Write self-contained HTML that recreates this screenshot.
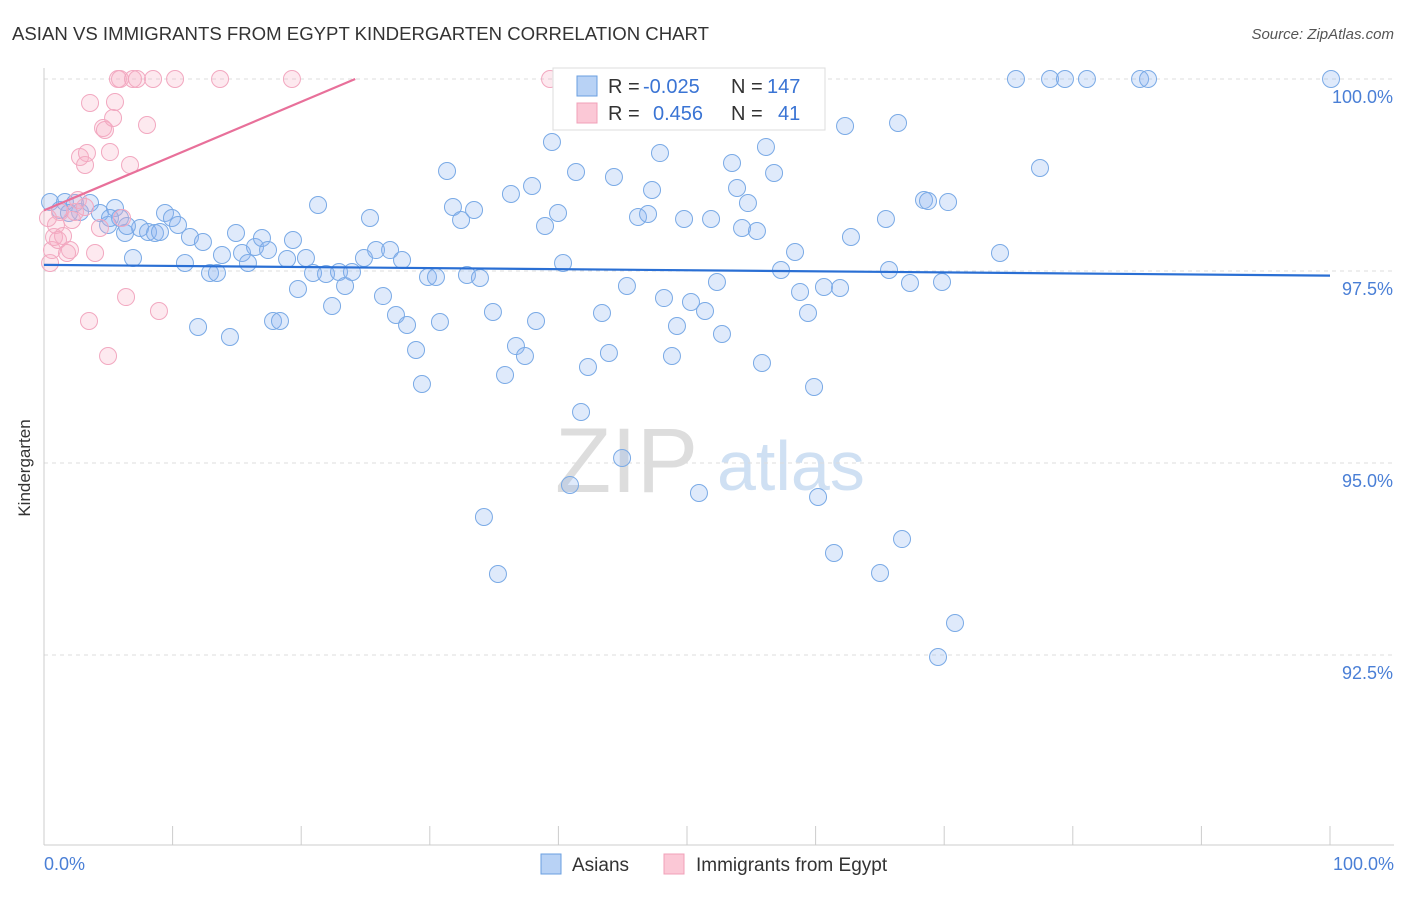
<!DOCTYPE html>
<html><head><meta charset="utf-8"><style>
body{margin:0;background:#fff;font-family:"Liberation Sans",sans-serif;}
svg text{font-family:"Liberation Sans",sans-serif;}
</style></head><body>
<svg id="chart" width="1406" height="892" xmlns="http://www.w3.org/2000/svg">
<text x="12" y="40" font-size="18.6" fill="#333">ASIAN VS IMMIGRANTS FROM EGYPT KINDERGARTEN CORRELATION CHART</text>
<text x="1394" y="39" font-size="15" fill="#555" font-style="italic" text-anchor="end">Source: ZipAtlas.com</text>
<g>
<text x="555" y="492" font-size="92" font-family="Liberation Serif,serif" fill="#ddd">ZIP</text>
<text x="717" y="490" font-size="70" fill="#cfe0f3">atlas</text>
</g>
<g id="grid"></g><g id="axes"></g><g id="pts"></g><g id="trends"></g>
<text x="18" y="456" font-size="17" fill="#333" transform="rotate(-90 30 456)" text-anchor="middle">Kindergarten</text>
<text x="44" y="870" font-size="18" fill="#4a7fd6">0.0%</text>
<text x="1394" y="870" font-size="18" fill="#4a7fd6" text-anchor="end">100.0%</text>
<g>
<rect x="553" y="68" width="272" height="62" fill="#fff" stroke="#ddd"/>
<rect x="577" y="76" width="20" height="20" fill="#b8d2f5" stroke="#6a9fe0"/>
<rect x="577" y="103" width="20" height="20" fill="#fbc8d6" stroke="#f0a0b8"/>
<text x="608" y="93" font-size="20" fill="#333">R =</text>
<text x="643" y="93" font-size="20" fill="#3a74d4">-0.025</text>
<text x="731" y="93" font-size="20" fill="#333">N =</text>
<text x="767" y="93" font-size="20" fill="#3a74d4">147</text>
<text x="608" y="120" font-size="20" fill="#333">R =</text>
<text x="653" y="120" font-size="20" fill="#3a74d4">0.456</text>
<text x="731" y="120" font-size="20" fill="#333">N =</text>
<text x="778" y="120" font-size="20" fill="#3a74d4">41</text>
</g>
<g>
<rect x="541" y="854" width="20" height="20" fill="#b8d2f5" stroke="#6a9fe0"/>
<text x="572" y="871" font-size="19" fill="#333">Asians</text>
<rect x="664" y="854" width="20" height="20" fill="#fbc8d6" stroke="#f0a0b8"/>
<text x="696" y="871" font-size="19" fill="#333">Immigrants from Egypt</text>
</g>
</svg>
<script>
const yTicks=[100,97.5,95,92.5];
const yTickLabels=["100.0%","97.5%","95.0%","92.5%"];
const xTicks=[0,10,20,30,40,50,60,70,80,90,100];
const asiansPx=[[50,202],[60,210],[65,202],[75,203],[80,212],[90,203],[100,213],[108,225],[115,208],[120,218],[125,233],[133,258],[140,228],[148,232],[155,233],[160,232],[165,213],[172,218],[178,225],[185,263],[190,237],[198,327],[203,242],[210,273],[217,273],[222,255],[230,337],[236,233],[242,253],[248,263],[255,247],[262,238],[268,250],[273,321],[280,321],[287,259],[293,240],[298,289],[306,258],[313,273],[318,205],[326,274],[332,306],[339,272],[345,286],[352,272],[364,258],[370,218],[376,250],[383,296],[390,250],[396,315],[402,260],[407,325],[416,350],[422,384],[428,277],[436,277],[440,322],[447,171],[453,207],[461,220],[467,275],[474,210],[480,278],[484,517],[493,312],[498,574],[505,375],[511,194],[516,346],[525,356],[532,186],[536,321],[545,226],[552,142],[558,213],[563,263],[570,485],[576,172],[581,412],[588,367],[602,313],[609,353],[614,177],[622,458],[627,286],[638,217],[648,214],[652,190],[660,153],[664,298],[672,356],[677,326],[684,219],[691,302],[699,493],[705,311],[711,219],[717,282],[722,334],[732,163],[737,188],[742,228],[748,203],[757,231],[762,363],[766,147],[774,173],[781,270],[795,252],[800,292],[808,313],[814,387],[818,497],[824,287],[834,553],[840,288],[845,126],[851,237],[880,573],[886,219],[889,270],[898,123],[902,539],[910,283],[924,200],[928,201],[938,657],[942,282],[948,202],[955,623],[1000,253],[1016,79],[1040,168],[1050,79],[1065,79],[1087,79],[1140,79],[1148,79],[1331,79],[110,218],[127,226],[69,213],[635,116]];
const egyptPx=[[50,263],[52,250],[54,237],[56,225],[58,240],[60,212],[63,236],[67,253],[70,250],[72,220],[75,212],[78,200],[80,157],[85,165],[87,153],[89,321],[90,103],[95,253],[100,228],[103,128],[105,130],[108,356],[110,152],[113,118],[115,102],[118,79],[120,79],[122,218],[126,297],[130,165],[133,79],[137,79],[147,125],[153,79],[159,311],[175,79],[220,79],[292,79],[550,79],[85,207],[48,218]];
const asiansX=asiansPx.map(p=>+((p[0]-44)/12.86).toFixed(2));
const asiansY=asiansPx.map(p=>+(100-(p[1]-79)/76.8).toFixed(3));
const egyptX=egyptPx.map(p=>+((p[0]-44)/12.86).toFixed(2));
const egyptY=egyptPx.map(p=>+(100-(p[1]-79)/76.8).toFixed(3));
const asiansTrend=[[0,97.58],[100,97.44]];
const egyptTrend=[[0,98.29],[24.2,100]];
const X=v=>44+v*12.86, Y=v=>79+(100-v)*76.8;
const NS="http://www.w3.org/2000/svg";
function mk(t,a,parent){const e=document.createElementNS(NS,t);for(const k in a)e.setAttribute(k,a[k]);document.getElementById(parent).appendChild(e);return e;}
yTicks.forEach((t,i)=>{
 const l=mk('line',{x1:44,x2:1394,y1:Y(t),y2:Y(t),stroke:'#ddd','stroke-dasharray':'4,4'},'grid');
 
 
 const tx=mk('text',{x:1393,y:Y(t)+24,'font-size':18,fill:'#4a7fd6','text-anchor':'end'},'grid');
 tx.textContent=yTickLabels[i];
 
 
});
let ax=mk('line',{x1:44,x2:44,y1:68,y2:845,stroke:'#ccc'},'axes');


ax=mk('line',{x1:44,x2:1394,y1:845,y2:845,stroke:'#ccc'},'axes');


xTicks.forEach(t=>{const l=mk('line',{x1:X(t),x2:X(t),y1:826,y2:845,stroke:'#ccc'},'axes');
 
 });
asiansX.forEach((x,i)=>{const c=mk('circle',{cx:X(x),cy:Y(asiansY[i]),r:8.5,fill:'rgba(140,180,240,0.28)',stroke:'#7aaae6','stroke-width':1},'pts');
 
 });
egyptX.forEach((x,i)=>{const c=mk('circle',{cx:X(x),cy:Y(egyptY[i]),r:8.5,fill:'rgba(248,175,198,0.28)',stroke:'#f2a8c0','stroke-width':1},'pts');
 
 });
let tl=mk('line',{x1:X(asiansTrend[0][0]),y1:Y(asiansTrend[0][1]),x2:X(asiansTrend[1][0]),y2:Y(asiansTrend[1][1]),stroke:'#2a6fd4','stroke-width':2.2},'trends');


tl=mk('line',{x1:X(egyptTrend[0][0]),y1:Y(egyptTrend[0][1]),x2:X(egyptTrend[1][0]),y2:Y(egyptTrend[1][1]),stroke:'#e8709a','stroke-width':2.2},'trends');


</script>
</body></html>
